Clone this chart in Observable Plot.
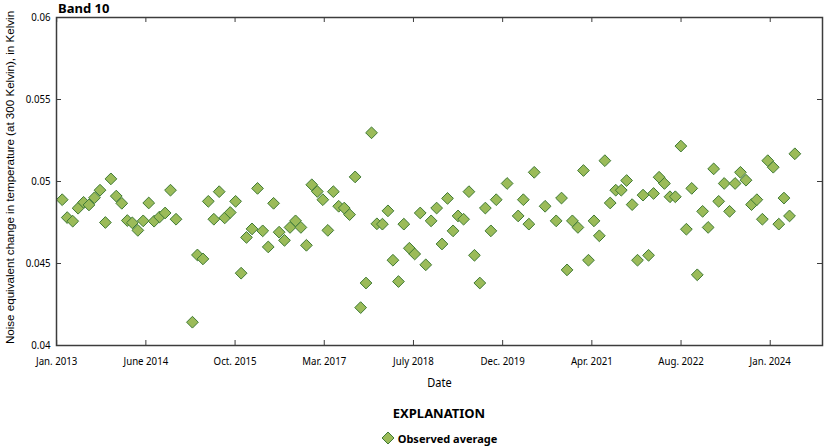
<!DOCTYPE html>
<html>
<head>
<meta charset="utf-8">
<script src="https://cdn.jsdelivr.net/npm/d3@7"></script>
<script src="https://cdn.jsdelivr.net/npm/@observablehq/plot@0.6"></script>
<style>
  body { margin: 0; background: #fff; }
  #wrap { position: relative; width: 824px; height: 448px; font-family: 'Noto Sans', sans-serif; color: #000; }
  #title { position: absolute; left: 58px; top: 0px; font-weight: bold; font-size: 13px; line-height: 16px; }
  #expl { position: absolute; left: 56px; width: 766px; top: 405px; text-align: center; font-weight: bold; font-size: 13px; line-height: 16px; }
  #leg { position: absolute; left: 56px; width: 766px; top: 430px; height: 16px; display: flex; justify-content: center; align-items: center; font-weight: bold; font-size: 11px; }
  #leg svg { margin-right: 3px; }
  #chart { position: absolute; left: 0; top: 0; }
</style>
</head>
<body>
<div id="wrap">
  <div id="chart"></div>
  <div id="title">Band 10</div>
  <div id="expl">EXPLANATION</div>
  <div id="leg"><svg width="14" height="14" viewBox="-7 -7 14 14"><path d="M0,-6L6,0L0,6L-6,0Z" fill="#9bbb59" stroke="#3f7a35" stroke-width="1"/></svg><span>Observed average</span></div>
</div>
<script>
// Monthly observation dates
const dates = [
  "2013-02","2013-03","2013-04","2013-05","2013-06","2013-07","2013-08","2013-09","2013-10","2013-11","2013-12",
  "2014-01","2014-02","2014-03","2014-04","2014-05","2014-06","2014-07","2014-08","2014-09","2014-10","2014-11",
  "2015-02","2015-03","2015-04","2015-05","2015-06","2015-07","2015-08","2015-09","2015-10","2015-11","2015-12",
  "2016-01","2016-02","2016-03","2016-04","2016-05","2016-06","2016-07","2016-08","2016-09","2016-10","2016-11","2016-12",
  "2017-01","2017-02","2017-03","2017-04","2017-05","2017-06","2017-07","2017-08","2017-09","2017-10","2017-11","2017-12",
  "2018-01","2018-02","2018-03","2018-04","2018-05","2018-06","2018-07","2018-08","2018-09","2018-10","2018-11","2018-12",
  "2019-01","2019-02","2019-03","2019-04","2019-05","2019-06","2019-07","2019-08","2019-09","2019-10","2019-12",
  "2020-02","2020-03","2020-04","2020-05","2020-07","2020-09","2020-10","2020-11","2020-12",
  "2021-01","2021-02","2021-03","2021-04","2021-05","2021-06","2021-07","2021-08","2021-09","2021-10","2021-11","2021-12",
  "2022-01","2022-02","2022-03","2022-04","2022-05","2022-06","2022-07","2022-08","2022-09","2022-10","2022-11","2022-12",
  "2023-01","2023-02","2023-03","2023-04","2023-05","2023-06","2023-07","2023-08","2023-09","2023-10","2023-11","2023-12",
  "2024-01","2024-02","2024-03","2024-04","2024-05"
];
// Noise equivalent change in temperature (K)
const nedt = [
  0.04889,0.04780,0.04758,0.04837,0.04873,0.04857,0.04901,0.04947,0.04750,0.05016,0.04911,
  0.04867,0.04762,0.04748,0.04702,0.04760,0.04869,0.04758,0.04784,0.04808,0.04947,0.04770,
  0.04142,0.04552,0.04528,0.04879,0.04770,0.04938,0.04778,0.04811,0.04879,0.04441,0.04659,
  0.04711,0.04958,0.04699,0.04601,0.04867,0.04691,0.04641,0.04720,0.04760,0.04720,0.04611,0.04980,
  0.04939,0.04889,0.04702,0.04938,0.04849,0.04838,0.04798,0.05028,0.04231,0.04381,0.05297,0.04742,
  0.04740,0.04821,0.04520,0.04390,0.04740,0.04593,0.04558,0.04808,0.04492,0.04760,0.04838,0.04619,
  0.04897,0.04699,0.04790,0.04770,0.04938,0.04550,0.04381,0.04838,0.04699,0.04889,0.04988,
  0.04790,0.04889,0.04740,0.05056,0.04849,0.04760,0.04899,0.04461,0.04760,
  0.04720,0.05067,0.04520,0.04760,0.04669,0.05127,0.04869,0.04947,0.04947,0.05006,0.04859,0.04520,
  0.04917,0.04550,0.04927,0.05026,0.04988,0.04907,0.04907,0.05216,0.04709,0.04958,0.04431,0.04818,
  0.04720,0.05077,0.04879,0.04988,0.04818,0.04988,0.05056,0.05008,0.04859,0.04889,0.04770,0.05127,
  0.05087,0.04740,0.04899,0.04790,0.05169
];
// X tick positions and labels
const xTickDates = ["2013-01-01","2014-05-16","2015-09-28","2017-02-09","2018-06-24","2019-11-06","2021-03-20","2022-08-02","2023-12-15"];
const xTickLabels = ["Jan. 2013","June 2014","Oct. 2015","Mar. 2017","July 2018","Dec. 2019","Apr. 2021","Aug. 2022","Jan. 2024"];
const yTicks = [0.04, 0.045, 0.05, 0.055, 0.06];
const yTickLabels = ["0.04", "0.045", "0.05", "0.055", "0.06"];
const xDomain = ["2012-12-31", "2024-10-03"];
const yDomain = [0.04, 0.06];
const yLabel = "Noise equivalent change in temperature (at 300 Kelvin), in Kelvin";
const xLabel = "Date";

const data = dates.map((d, i) => ({date: new Date(d), value: nedt[i]}));
const xTicks = xTickDates.map((d, i) => ({date: new Date(d), label: xTickLabels[i]}));
const xLabelMap = new Map(xTicks.map(t => [+t.date, t.label]));
const yLabelMap = new Map(yTicks.map((v, i) => [v, yTickLabels[i]]));

const W = 824, H = 398, mT = 17, mB = 53, mL = 56, mR = 2;
const plotW = W - mL - mR, plotH = H - mT - mB;
const tickLen = 5;
const axisColor = "#3c3c3c";

const chart = Plot.plot({
  width: W, height: H,
  marginTop: mT, marginBottom: mB, marginLeft: mL, marginRight: mR,
  style: {fontFamily: "'Noto Sans', sans-serif", fontSize: "11px", background: "#fff", color: "#000", overflow: "visible"},
  x: {type: "utc", domain: xDomain.map(d => new Date(d))},
  y: {domain: yDomain},
  marks: [
    Plot.axisX(xTicks.map(t => t.date), {anchor: "bottom", tickSize: 0, tickPadding: 12, tickFormat: d => xLabelMap.get(+d), label: null, fontSize: 11, className: "cond"}),
    Plot.axisY(yTicks, {anchor: "left", tickSize: 0, tickPadding: 6, tickFormat: d => yLabelMap.get(d), label: null, fontSize: 11, className: "cond"}),
    Plot.tickX(xTicks, {x: "date", insetTop: plotH - tickLen, stroke: axisColor, strokeWidth: 1}),
    Plot.tickX(xTicks, {x: "date", insetBottom: plotH - tickLen, stroke: axisColor, strokeWidth: 1}),
    Plot.tickY(yTicks, {y: d => d, insetRight: plotW - tickLen, stroke: axisColor, strokeWidth: 1}),
    Plot.tickY(yTicks, {y: d => d, insetLeft: plotW - tickLen, stroke: axisColor, strokeWidth: 1}),
    Plot.dot(data, {x: "date", y: "value", symbol: "diamond2", r: 5.3, fill: "#9bbb59", stroke: "#3f7a35", strokeWidth: 1}),
    Plot.frame({stroke: axisColor, strokeWidth: 1.5}),
    Plot.text([yLabel], {text: d => d, frameAnchor: "left", textAnchor: "middle", rotate: -90, dx: -46, dy: -4, fontFamily: "'Liberation Sans', Arial, sans-serif", fontSize: 11.6}),
    Plot.text([xLabel], {text: d => d, frameAnchor: "bottom", dy: 41, fontSize: 12.5, className: "cond"})
  ]
});
// narrow the axis texts to imitate the condensed face of the original
chart.querySelectorAll(".cond text").forEach(t => {
  const tr = t.getAttribute("transform") || "";
  t.setAttribute("transform", tr + " scale(0.88,1)");
});
document.getElementById("chart").appendChild(chart);
</script>
</body>
</html>
